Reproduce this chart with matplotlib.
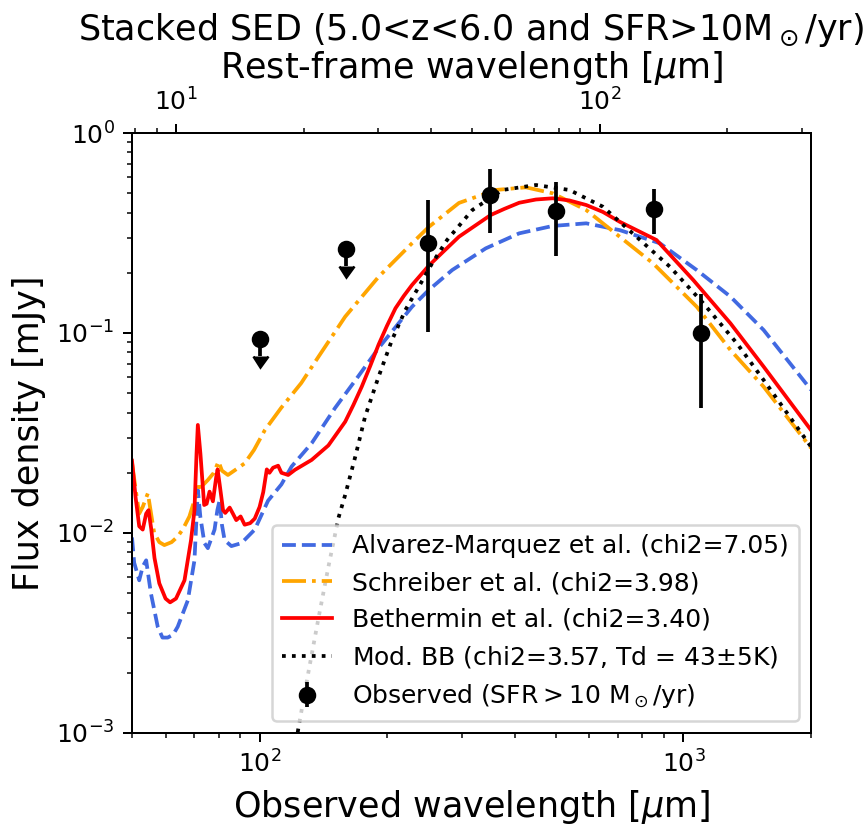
import matplotlib
matplotlib.use("Agg")
import matplotlib.pyplot as plt

# redshift factor used for the rest-frame axis
one_plus_z = 6.35

# ---- observed stacked photometry ----
obs_wave = [250, 350, 500, 850, 1100]
obs_flux = [0.283, 0.490, 0.409, 0.417, 0.100]
obs_err_lo = [0.182, 0.173, 0.166, 0.104, 0.058]
obs_err_hi = [0.179, 0.168, 0.162, 0.106, 0.056]

ul_wave = [100, 160]
ul_flux = [0.093, 0.262]
ul_err = [0.016, 0.046]

# ---- Alvarez-Marquez et al. template ----
am_wave = [50.0, 50.6, 52.0, 53.0, 54.0, 55.4, 57.5, 59.0, 60.7, 62.5, 64.1, 67.7,
           70.2, 71.0, 71.5, 72.5, 74.1, 75.5, 78.3, 79.5, 80.5, 81.5, 82.7, 85.8,
           90.6, 97.4, 104.7, 112.6, 119.0, 132.7, 150.7, 171.2, 190.9, 228.9,
           250.7, 284.8, 341.7, 409.8, 491.5, 589.6, 707.2, 879.7, 1075, 1291,
           1546, 2000]
am_flux = [0.0095, 0.0071, 0.0058, 0.0068, 0.0073, 0.0050, 0.0034, 0.0030, 0.0030,
           0.0031, 0.0034, 0.0046, 0.0073, 0.0120, 0.0164, 0.0120, 0.0089, 0.0084,
           0.0104, 0.0130, 0.0146, 0.0110, 0.0092, 0.0086, 0.0089, 0.0104, 0.0145,
           0.0175, 0.0215, 0.0281, 0.0422, 0.0610, 0.0841, 0.1353, 0.164, 0.2065,
           0.265, 0.315, 0.343, 0.3535, 0.327, 0.281, 0.2065, 0.152, 0.1035, 0.052]

# ---- Schreiber et al. template ----
sch_wave = [50.0, 51.0, 52.0, 53.0, 54.5, 55.3, 56.4, 58.0, 59.6, 62.0, 64.1, 66.0,
            68.3, 70.2, 71.5, 72.8, 75.5, 78.0, 80.0, 81.5, 84.2, 88.0, 92.2, 97.0,
            102.9, 112.4, 125.4, 137.6, 159.2, 190.9, 228.9, 250.7, 295.4, 360.8,
            425.0, 491.5, 589.6, 707.2, 848.0, 1075, 1291, 1546, 2000]
sch_flux = [0.0225, 0.0165, 0.0125, 0.0135, 0.0158, 0.0130, 0.0100, 0.0090, 0.0087,
            0.0090, 0.0096, 0.0105, 0.0121, 0.0146, 0.0170, 0.0170, 0.0184, 0.0200,
            0.0228, 0.0205, 0.0195, 0.0208, 0.0223, 0.0260, 0.0327, 0.0422, 0.0562,
            0.0759, 0.1207, 0.191, 0.281, 0.339, 0.447, 0.519, 0.535, 0.4995, 0.412,
            0.303, 0.223, 0.1353, 0.0822, 0.0539, 0.0266]

# ---- Bethermin et al. template ----
bet_wave = [50.0, 51.0, 52.0, 53.0, 54.0, 54.7, 55.5, 56.5, 58.0, 60.0, 61.5, 63.5,
            66.5, 68.9, 70.2, 71.0, 71.5, 72.5, 74.0, 75.0, 76.2, 77.6, 79.0, 79.6,
            80.5, 82.0, 83.0, 85.0, 86.5, 88.1, 90.2, 92.2, 95.0, 97.4, 100.0, 102.0,
            104.0, 105.5, 107.6, 110.6, 112.6, 116.8, 121.2, 132.7, 145.3, 159.2,
            166.5, 174.2, 182.4, 190.9, 199.7, 209.2, 218.8, 228.9, 250.7, 271.6,
            295.4, 351.0, 377.6, 409.8, 448.8, 491.5, 538.3, 589.6, 645.7, 707.2,
            864.0, 1055.0, 1291.0, 1546.0, 2000.0]
bet_flux = [0.0230, 0.0150, 0.0108, 0.0104, 0.0125, 0.0130, 0.0105, 0.0075, 0.0056,
            0.0047, 0.0045, 0.0047, 0.0058, 0.0092, 0.0130, 0.0250, 0.0347, 0.0250,
            0.0138, 0.0140, 0.0161, 0.0144, 0.0190, 0.0208, 0.0175, 0.0130, 0.0126,
            0.0134, 0.0125, 0.0116, 0.0121, 0.0110, 0.0112, 0.0118, 0.0135, 0.0160,
            0.0208, 0.0200, 0.0212, 0.0217, 0.0200, 0.0195, 0.0207, 0.0232, 0.0274,
            0.0360, 0.0437, 0.0539, 0.0684, 0.0875, 0.1084, 0.1329, 0.1530, 0.1738,
            0.2170, 0.2556, 0.303, 0.389, 0.417, 0.448, 0.465, 0.4716, 0.460, 0.4365,
            0.403, 0.360, 0.2917, 0.184, 0.1118, 0.0679, 0.0327]

# ---- modified black body ----
bb_wave = [122.0, 123.4, 130.3, 137.6, 145.3, 153.5, 159.2, 168.2, 177.4, 190.9,
           205.3, 220.8, 237.5, 255.3, 277.0, 317.7, 374.1, 448.8, 538.3, 645.7,
           774.5, 929.0, 1114.0, 1337.0, 1546.0, 2000.0]
bb_flux = [0.0009, 0.00105, 0.0020, 0.00372, 0.00676, 0.0119, 0.0155, 0.0241,
           0.0382, 0.0605, 0.0923, 0.1303, 0.1704, 0.223, 0.292, 0.412, 0.519,
           0.5495, 0.519, 0.428, 0.303, 0.2145, 0.1408, 0.0888, 0.0582, 0.027]

rest_ticks = [10, 100]

labels = ["Alvarez-Marquez et al. (chi2=7.05)",
          "Schreiber et al. (chi2=3.98)",
          "Bethermin et al. (chi2=3.40)",
          "Mod. BB (chi2=3.57, Td = 43$\\pm$5K)",
          "Observed (SFR$>$10 M$_\\odot$/yr)"]

DPI = 180
fig = plt.figure(figsize=(867 / DPI, 826 / DPI), dpi=DPI)
ax = fig.add_axes([132 / 867, 93 / 826, 679 / 867, 600 / 826])

ax.plot(am_wave, am_flux, ls="--", color="royalblue", lw=1.5, label=labels[0])
ax.plot(sch_wave, sch_flux, ls="-.", color="orange", lw=1.5, label=labels[1])
ax.plot(bet_wave, bet_flux, ls="-", color="red", lw=1.5, label=labels[2])
ax.plot(bb_wave, bb_flux, ls=":", color="k", lw=1.5, label=labels[3])

ax.errorbar(obs_wave, obs_flux, yerr=[obs_err_lo, obs_err_hi], fmt="o",
            color="k", label=labels[4])
ax.errorbar(ul_wave, ul_flux, yerr=ul_err, uplims=True, fmt="o", color="k")

ax.set_xscale("log")
ax.set_yscale("log")
ax.set_xlim(50, 2000)
ax.set_ylim(1e-3, 1)
ax.set_xlabel("Observed wavelength [$\\mu$m]", fontsize=14)
ax.set_ylabel("Flux density [mJy]", fontsize=14)

sec = ax.secondary_xaxis("top", functions=(lambda x: x / one_plus_z,
                                            lambda x: x * one_plus_z))
sec.set_xticks(rest_ticks)
sec.set_xlabel("Rest-frame wavelength [$\\mu$m]", fontsize=14)

ax.set_title("Stacked SED (5.0<z<6.0 and SFR>10M$_\\odot$/yr)", fontsize=14,
             pad=3.5)

ax.legend(loc="lower right", fontsize=10)

fig.savefig("out.png", dpi=DPI)
